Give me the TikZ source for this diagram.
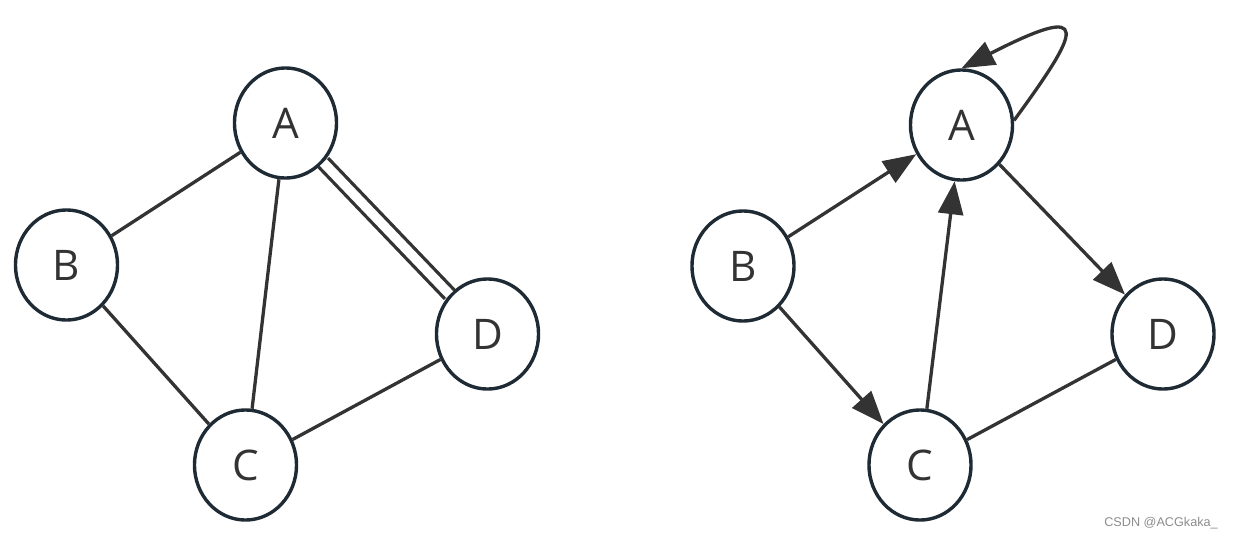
\documentclass[tikz,border=0pt]{standalone}
\usepackage{fontspec}
\setmainfont{Open Sans}
\newfontfamily\wmfont{Liberation Sans}
\usetikzlibrary{shapes.geometric,arrows.meta}
\definecolor{ring}{HTML}{1E2A34}
\definecolor{edge}{HTML}{333333}
\begin{document}
\begin{tikzpicture}[x=0.01cm,y=-0.01cm,
  vert/.style={ellipse,draw=ring,line width=0.034cm,minimum width=1.02cm,minimum height=1.1cm,inner sep=0pt,font=\fontsize{12}{13}\selectfont,text=edge},
  link/.style={draw=edge,line width=0.033cm},
  arr/.style={link,-{Triangle[length=0.33cm,width=0.25cm]}},
  dbl/.style={draw=edge,line width=0.033cm,double=white,double distance=0.095cm}]
\useasboundingbox (0,0) rectangle (1233,539);
% left graph
\node[vert] (A1) at (285.5,123) {A};
\node[vert] (B1) at (66.5,265) {B};
\node[vert] (C1) at (245.5,465) {C};
\node[vert] (D1) at (487.5,334) {D};
\draw[link] (A1) -- (B1);
\draw[link] (A1) -- (C1);
\draw[link] (B1) -- (C1);
\draw[link] (C1) -- (D1);
\draw[dbl] (A1) -- (D1);
% right graph
\node[vert] (A2) at (961.5,125) {A};
\node[vert] (B2) at (743,266) {B};
\node[vert] (C2) at (920,465) {C};
\node[vert] (D2) at (1163,334) {D};
\draw[arr] (B2) -- (A2);
\draw[arr] (B2) -- (C2);
\draw[arr] (C2) -- (A2);
\draw[arr] (A2) -- (D2);
\draw[link] (C2) -- (D2);
\draw[arr] (A2.5) .. controls (1080,30) and (1095,0) .. (A2.north);
% watermark
\node[font=\wmfont\fontsize{3.6}{4.5}\selectfont,text=black!45,anchor=center,inner sep=0pt] (wm) at (1161,523) {CSDN @ACGkaka\_};
\end{tikzpicture}
\end{document}
